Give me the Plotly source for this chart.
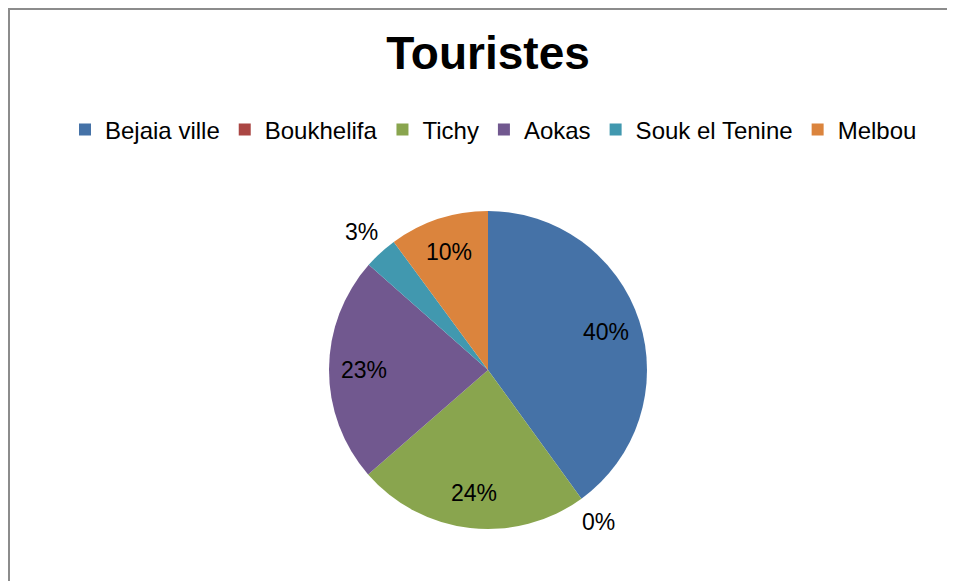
import math
import plotly.graph_objects as go

categories = ["Bejaia ville", "Boukhelifa", "Tichy", "Aokas", "Souk el Tenine", "Melbou"]
values = [40.0, 0.0, 23.6, 22.9, 3.4, 10.1]
colors = ["#4572A7", "#AA4643", "#89A54E", "#71588F", "#4198AF", "#DB843D"]
label_positions = ["inside", "outside", "inside", "inside", "outside", "inside"]

W, H = 955, 581
# pie centre / radius in figure pixels (page has an 8px body margin)
cx, cy, r = 480, 362, 159
FONT = "Liberation Sans, Arial, sans-serif"

fig = go.Figure(go.Pie(
    labels=categories,
    values=values,
    sort=False,
    direction="clockwise",
    rotation=0,
    marker=dict(colors=colors, line=dict(width=0)),
    textinfo="none",
    domain=dict(x=[(cx - r) / W, (cx + r) / W], y=[1 - (cy + r) / H, 1 - (cy - r) / H]),
    hoverinfo="label+percent",
))

# percentage labels placed on each slice's bisector (Excel style)
total = sum(values)
annotations = []
cum = 0.0
for v, pos in zip(values, label_positions):
    mid = (cum + v / 2) / total * 2 * math.pi
    cum += v
    rf = 0.78 if pos == "inside" else 1.18
    px = cx + rf * r * math.sin(mid)
    py = cy - rf * r * math.cos(mid)
    annotations.append(dict(
        text=f"{round(v / total * 100)}%", x=px / W, y=1 - py / H, xref="paper", yref="paper",
        showarrow=False, xanchor="center", yanchor="middle",
        font=dict(family=FONT, size=23, color="#000000"),
    ))

fig.update_layout(
    width=W, height=H,
    margin=dict(l=0, r=0, t=0, b=0),
    paper_bgcolor="white",
    plot_bgcolor="white",
    font=dict(family=FONT, color="#000000"),
    title=dict(text="<b>Touristes</b>", x=cx / W, xanchor="center", y=1 - 45 / H, yanchor="middle",
               font=dict(size=46, color="#000000")),
    legend=dict(orientation="h", x=(485.5) / W, xanchor="center", y=1 - 122 / H, yanchor="middle",
                font=dict(size=24), itemwidth=30, traceorder="normal"),
    annotations=annotations,
    shapes=[
        dict(type="line", xref="paper", yref="paper", x0=0, x1=1, y0=1 - 1 / H, y1=1 - 1 / H,
             line=dict(color="#8C8C8C", width=2)),
        dict(type="line", xref="paper", yref="paper", x0=1 / W, x1=1 / W, y0=0, y1=1,
             line=dict(color="#8C8C8C", width=2)),
    ],
)

fig.write_html("out.html")
